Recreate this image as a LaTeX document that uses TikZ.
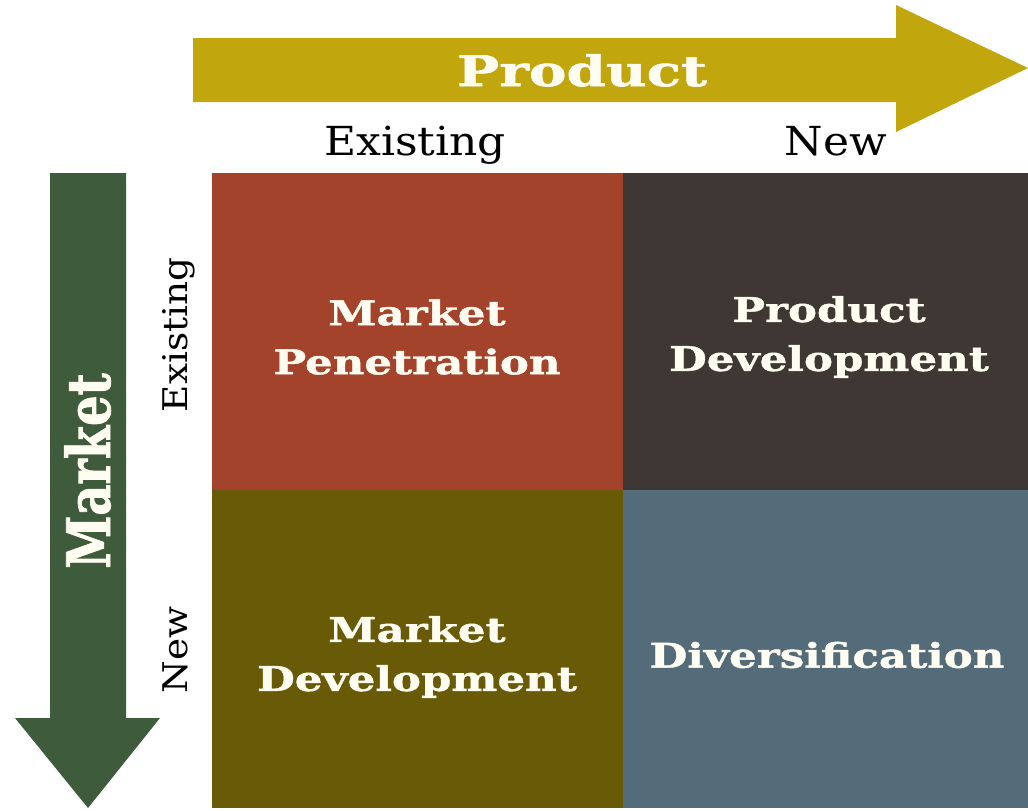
\documentclass[tikz,border=0pt]{standalone}
\usepackage{fontspec}
\setmainfont{DejaVu Serif}
\newfontfamily\slabfont{DejaVu Serif}[FakeStretch=1.28,BoldFeatures={FakeBold=1.2}]
\newfontfamily\widefont{DejaVu Serif}[FakeStretch=1.34,BoldFeatures={FakeBold=1.4}]
\newfontfamily\narrowfont{DejaVu Serif}[FakeStretch=0.8,BoldFeatures={FakeBold=1.4}]
\newfontfamily\labfont{DejaVu Serif}[FakeStretch=1.1]
\usepackage{xcolor}
\usepackage{tikz}
\usetikzlibrary{positioning}

\definecolor{rust}{HTML}{A4432B}
\definecolor{umber}{HTML}{3F3733}
\definecolor{olive}{HTML}{695A08}
\definecolor{slate}{HTML}{546B7A}
\definecolor{gold}{HTML}{C2A60E}
\definecolor{fern}{HTML}{3E5B3B}
\definecolor{chalk}{HTML}{FFFDF2}

\begin{document}
\begin{tikzpicture}[x=1pt,y=-1pt,
  cell/.style={anchor=center,inner sep=0pt,text=chalk,align=center,
    font=\slabfont\bfseries\fontsize{34}{49}\selectfont},
  axis/.style={anchor=base,inner sep=0pt,text=black,font=\labfont\fontsize{40}{44}\selectfont},
  sideaxis/.style={axis,rotate=90,font=\labfont\fontsize{34}{38}\selectfont},
  title/.style={anchor=base,inner sep=0pt,text=chalk}]
  \useasboundingbox (0,0) rectangle (1028,811);
  \fill[white] (0,0) rectangle (1028,811);

  \fill[gold] (193,38) -- (896,38) -- (896,5) -- (1028,68) -- (896,132)
    -- (896,102) -- (193,102) -- cycle;
  \fill[fern] (50,173) -- (126,173) -- (126,718) -- (160,718) -- (88,808)
    -- (15,718) -- (50,718) -- cycle;

  \fill[rust] (212,173) rectangle (623,490);
  \fill[umber] (623,173) rectangle (1028,490);
  \fill[olive] (212,490) rectangle (623,808);
  \fill[slate] (623,490) rectangle (1028,808);

  \node[title,font=\widefont\bfseries\fontsize{42}{46}\selectfont] (prod) at (582,86) {Product};
  \node[title,rotate=90,font=\narrowfont\bfseries\fontsize{60}{64}\selectfont] (mkt) at (110,471) {Market};

  \node[axis] (pold) at (415,155) {Existing};
  \node[axis] (pnew) at (836,155) {New};
  \node[sideaxis] (mold) at (187,335) {Existing};
  \node[sideaxis] (mnew) at (187,650) {New};

  \node[cell] (pen) at (417,337) {Market\\Penetration};
  \node[cell] (pdev) at (829,337) {Product\\Development};
  \node[cell] (mdev) at (417,657) {Market\\Development};
  \node[cell] (div) at (827,655) {Diversification};
\end{tikzpicture}
\end{document}
